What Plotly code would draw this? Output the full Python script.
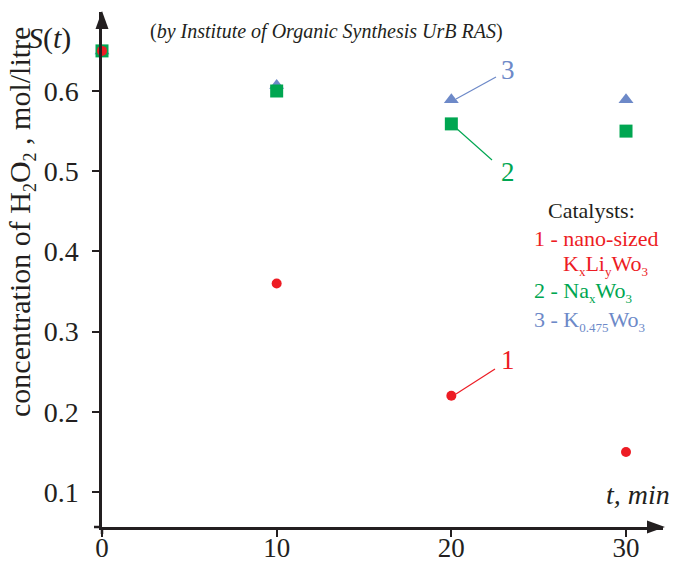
import plotly.graph_objects as go

# ---- data ----
time_min = [0, 10, 20, 30]
s_kxliywo3 = [0.65, 0.36, 0.22, 0.15]      # 1 - nano-sized KxLiyWo3
s_naxwo3 = [0.65, 0.60, 0.559, 0.55]       # 2 - NaxWo3
s_k0475wo3 = [0.65, 0.607, 0.589, 0.589]   # 3 - K0.475Wo3
x_ticks = [0, 10, 20, 30]
y_ticks = [0.1, 0.2, 0.3, 0.4, 0.5, 0.6]
y_tick_labels = ["0.1", "0.2", "0.3", "0.4", "0.5", "0.6"]

RED = "#ED1C24"
GREEN = "#00A651"
BLUE = "#6D89C8"
BLACK = "#231F20"
FONT = "Times New Roman"

W, H = 675, 563
L, R, T, B = 102, 12, 12, 36
PW, PH = W - L - R, H - T - B


def px(x, y):
    """pixel -> paper coordinates"""
    return (x - L) / PW, (H - B - y) / PH


def sub(s, size=13):
    return "<sub><span style='font-size:%dpx'>%s</span></sub>" % (size, s)


fig = go.Figure()
fig.add_trace(go.Scatter(x=time_min, y=s_k0475wo3, mode="markers",
                         marker=dict(symbol="triangle-up", size=13, color=BLUE),
                         cliponaxis=False, showlegend=False))
fig.add_trace(go.Scatter(x=time_min, y=s_naxwo3, mode="markers",
                         marker=dict(symbol="square", size=13, color=GREEN),
                         cliponaxis=False, showlegend=False))
fig.add_trace(go.Scatter(x=time_min, y=s_kxliywo3, mode="markers",
                         marker=dict(symbol="circle", size=10, color=RED),
                         cliponaxis=False, showlegend=False))

shapes = []
# axis extensions
x0, y0 = px(94, 527)
x1, y1 = px(102, 527)
shapes.append(dict(type="line", xref="paper", yref="paper", x0=x0, y0=y0, x1=x1, y1=y1,
                   line=dict(color=BLACK, width=2.5)))
x0, y0 = px(102, 527)
x1, y1 = px(102, 534)
shapes.append(dict(type="line", xref="paper", yref="paper", x0=x0, y0=y0, x1=x1, y1=y1,
                   line=dict(color=BLACK, width=2.5)))


def tri(points):
    pts = [px(*p) for p in points]
    return "M {} {} L {} {} L {} {} Z".format(pts[0][0], pts[0][1], pts[1][0], pts[1][1],
                                              pts[2][0], pts[2][1])


shapes.append(dict(type="path", xref="paper", yref="paper",
                   path=tri([(102, 11), (95.5, 29), (108.5, 29)]),
                   fillcolor=BLACK, line=dict(width=0)))
shapes.append(dict(type="path", xref="paper", yref="paper",
                   path=tri([(665, 527), (647, 520.5), (647, 533.5)]),
                   fillcolor=BLACK, line=dict(width=0)))

# leader lines to series numbers
leaders = [((456, 99), (496, 77), BLUE),
           ((456, 128), (492, 160), GREEN),
           ((456, 394), (495, 369), RED)]
for (p0, p1, col) in leaders:
    a0, b0 = px(*p0)
    a1, b1 = px(*p1)
    shapes.append(dict(type="line", xref="paper", yref="paper", x0=a0, y0=b0, x1=a1, y1=b1,
                       line=dict(color=col, width=1.2)))

annotations = []


def text(x, y, s, size, color=BLACK, xanchor="center", angle=0):
    ax, ay = px(x, y)
    annotations.append(dict(x=ax, y=ay, xref="paper", yref="paper", text=s, showarrow=False,
                            xanchor=xanchor, yanchor="middle", textangle=angle,
                            font=dict(family=FONT, size=size, color=color)))


text(49, 38, "<i>S</i>(<i>t</i>)", 30)
text(326, 32, "(<i>by Institute of Organic Synthesis UrB RAS</i>)", 20)
text(638, 494, "<i>t, min</i>", 28)
text(21, 222, "concentration of H" + sub("2", 18) + "O" + sub("2", 18) + " , mol/litre", 30,
     angle=-90)

text(508, 70, "3", 27, BLUE)
text(508, 172, "2", 27, GREEN)
text(508, 360, "1", 27, RED)

text(591, 211, "Catalysts:", 22)
text(532, 238, "1 - nano-sized", 22, RED, xanchor="left")
text(561, 265, "K" + sub("x") + "Li" + sub("y") + "Wo" + sub("3"), 22, RED, xanchor="left")
text(532, 292, "2 - Na" + sub("x") + "Wo" + sub("3"), 22, GREEN, xanchor="left")
text(532, 321, "3 - K" + sub("0.475") + "Wo" + sub("3"), 22, BLUE, xanchor="left")

fig.update_layout(
    width=W, height=H,
    margin=dict(l=L, r=R, t=T, b=B, pad=0, autoexpand=False),
    paper_bgcolor="white", plot_bgcolor="white",
    font=dict(family=FONT),
    shapes=shapes, annotations=annotations,
    xaxis=dict(range=[0, (663 - 102) / 17.467], tickvals=x_ticks,
               ticktext=[str(v) for v in x_ticks], automargin=False,
               showline=True, linecolor=BLACK, linewidth=2.5,
               ticks="outside", ticklen=7, tickwidth=1.5, tickcolor=BLACK,
               ticklabelstandoff=-12,
               showgrid=False, zeroline=False,
               tickfont=dict(family=FONT, size=27, color=BLACK)),
    yaxis=dict(range=[0.0564, 0.6985], tickvals=y_ticks, ticktext=y_tick_labels,
               automargin=False,
               showline=True, linecolor=BLACK, linewidth=2.5,
               ticks="outside", ticklen=7, tickwidth=1.5, tickcolor=BLACK,
               ticklabelstandoff=8,
               showgrid=False, zeroline=False,
               tickfont=dict(family=FONT, size=28, color=BLACK)),
)

fig.write_html("out.html")
